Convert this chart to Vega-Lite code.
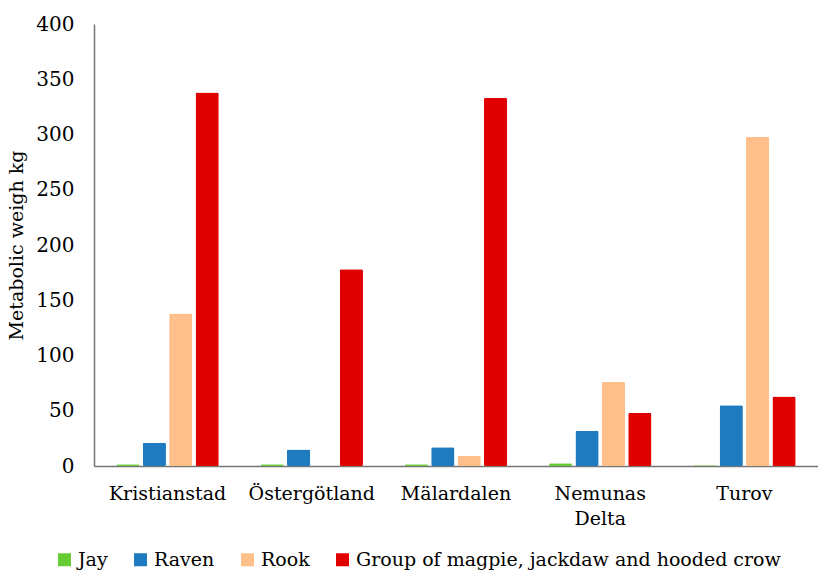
{
  "$schema": "https://vega.github.io/schema/vega-lite/v6.json",
  "autosize": "none",
  "padding": {"left": 94, "top": 24, "right": 0, "bottom": 105},
  "width": 724,
  "height": 442,
  "background": "white",
  "config": {
    "view": {"stroke": null},
    "font": "DejaVu Serif"
  },
  "data": {
    "values": [
      {"region": "Kristianstad", "species": "Jay", "value": 1.5},
      {"region": "Kristianstad", "species": "Raven", "value": 21},
      {"region": "Kristianstad", "species": "Rook", "value": 138},
      {"region": "Kristianstad", "species": "Group of magpie, jackdaw and hooded crow", "value": 338},
      {"region": "Östergötland", "species": "Jay", "value": 1.5},
      {"region": "Östergötland", "species": "Raven", "value": 15},
      {"region": "Östergötland", "species": "Rook", "value": 0},
      {"region": "Östergötland", "species": "Group of magpie, jackdaw and hooded crow", "value": 178},
      {"region": "Mälardalen", "species": "Jay", "value": 1.5},
      {"region": "Mälardalen", "species": "Raven", "value": 17},
      {"region": "Mälardalen", "species": "Rook", "value": 9},
      {"region": "Mälardalen", "species": "Group of magpie, jackdaw and hooded crow", "value": 333},
      {"region": "Nemunas Delta", "species": "Jay", "value": 2.5},
      {"region": "Nemunas Delta", "species": "Raven", "value": 32},
      {"region": "Nemunas Delta", "species": "Rook", "value": 76},
      {"region": "Nemunas Delta", "species": "Group of magpie, jackdaw and hooded crow", "value": 48},
      {"region": "Turov", "species": "Jay", "value": 0.6},
      {"region": "Turov", "species": "Raven", "value": 55},
      {"region": "Turov", "species": "Rook", "value": 298},
      {"region": "Turov", "species": "Group of magpie, jackdaw and hooded crow", "value": 63}
    ]
  },
  "mark": {"type": "bar", "cornerRadius": 1.5},
  "encoding": {
    "x": {
      "field": "region", "type": "nominal", "sort": null, "title": null,
      "scale": {"paddingInner": 0.29, "paddingOuter": 0.155},
      "axis": {
        "labelFont": "DejaVu Serif",
        "labelAngle": 0, "labelFontSize": 19, "labelPadding": 18, "ticks": false, "labelColor": "#000",
        "domainColor": "#767676", "domainWidth": 1.5, "labelLineHeight": 25,
        "labelExpr": "datum.value == 'Nemunas Delta' ? ['Nemunas', 'Delta'] : datum.value"
      }
    },
    "xOffset": {
      "field": "species", "type": "nominal",
      "sort": ["Jay", "Raven", "Rook", "Group of magpie, jackdaw and hooded crow"],
      "scale": {"paddingInner": 0.12, "paddingOuter": 0}
    },
    "y": {
      "field": "value", "type": "quantitative", "title": "Metabolic weigh kg",
      "scale": {"domain": [0, 400], "nice": false},
      "axis": {
        "labelFont": "DejaVu Serif", "titleFont": "DejaVu Serif", "labelColor": "#000", "titleColor": "#000",
        "values": [0, 50, 100, 150, 200, 250, 300, 350, 400],
        "grid": false, "ticks": false, "labelFontSize": 20, "labelPadding": 20,
        "titleFontSize": 19, "titleFontWeight": "normal", "titlePadding": 9,
        "domainColor": "#767676", "domainWidth": 1.5
      }
    },
    "color": {
      "field": "species", "type": "nominal", "title": null,
      "sort": ["Jay", "Raven", "Rook", "Group of magpie, jackdaw and hooded crow"],
      "scale": {
        "domain": ["Jay", "Raven", "Rook", "Group of magpie, jackdaw and hooded crow"],
        "range": ["#66CC33", "#1F7BBF", "#FFBF8A", "#E00000"]
      },
      "legend": {
        "labelFont": "DejaVu Serif",
        "orient": "none", "legendX": -39, "legendY": 526,
        "direction": "horizontal", "columns": 4,
        "symbolType": "square", "symbolSize": 169, "symbolStrokeWidth": 0,
        "labelFontSize": 19, "labelOffset": 4, "columnPadding": 23,
        "labelLimit": 600, "labelColor": "#000"
      }
    }
  }
}
